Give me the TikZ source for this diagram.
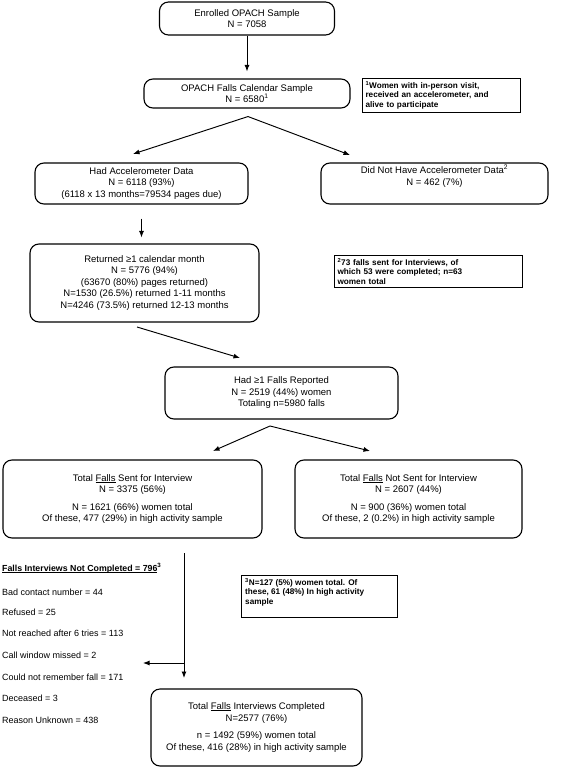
\documentclass[tikz,border=0pt]{standalone}
\usepackage{fontspec}
\setmainfont{Liberation Sans}
\usetikzlibrary{arrows.meta,calc}
\newcommand\myul[1]{\setbox0\hbox{#1}\rlap{\rule[-1.3pt]{\wd0}{0.55pt}}#1}
\begin{document}
\begin{tikzpicture}[x=1pt,y=-1pt,
  box/.style={draw, line width=1.1pt, rounded corners=9pt, align=center, inner sep=2pt,
    font=\fontsize{9.5}{11.5}\selectfont},
  note/.style={draw, line width=1.1pt, align=left, inner sep=3pt, anchor=north west,
    font=\bfseries\fontsize{8.2}{9.6}\selectfont},
  notetext/.style={align=left, inner sep=0pt, anchor=north west,
    font=\bfseries\fontsize{8.2}{9.6}\selectfont},
  arr/.style={line width=0.95pt, -{Latex[length=6.5pt,width=5pt]}},
  item/.style={anchor=west, inner sep=0pt, font=\fontsize{9}{11}\selectfont}]
\useasboundingbox (0,0) rectangle (568,767);
\fill[white] (0,0) rectangle (568,767);

% boxes
\node[box, minimum width=175pt, minimum height=33pt] (b1) at (247,18.5)
  {Enrolled OPACH Sample\\N = 7058};
\node[box, minimum width=206pt, minimum height=29pt] (b2) at (247,93.5)
  {OPACH Falls Calendar Sample\\N = 6580\textsuperscript{1}};
\node[note, text width=152pt, minimum height=31pt] (n1) at (362,78)
  {\textsuperscript{1}Women with in-person visit,\\received an accelerometer, and\\alive to participate};
\node[box, minimum width=213pt, minimum height=41pt] (b3) at (141.5,183.5)
  {Had Accelerometer Data\\N = 6118 (93\%)\\(6118 x 13 months=79534 pages due)};
\node[box, minimum width=227pt, minimum height=41pt] (b4) at (434.5,183.5)
  {Did Not Have Accelerometer Data\textsuperscript{2}\\N = 462 (7\%)\\[5pt]};
\node[box, minimum width=229pt, minimum height=78pt] (b5) at (144.5,283)
  {Returned ≥1 calendar month\\N = 5776 (94\%)\\(63670 (80\%) pages returned)\\N=1530 (26.5\%) returned 1-11 months\\N=4246 (73.5\%) returned 12-13 months};
\node[note, text width=182pt, minimum height=28pt] (n2) at (334,255)
  {\textsuperscript{2}73 falls sent for Interviews, of\\which 53 were completed; n=63\\women total};
\node[box, minimum width=233pt, minimum height=52pt] (b6) at (281.5,393)
  {Had ≥1 Falls Reported\\N = 2519 (44\%) women\\Totaling n=5980 falls};
\node[box, minimum width=259pt, minimum height=78pt] (b7) at (132.5,499)
  {Total \myul{Falls} Sent for Interview\\N = 3375 (56\%)\\[6pt]N = 1621 (66\%) women total\\Of these, 477 (29\%) in high activity sample};
\node[box, minimum width=227pt, minimum height=78pt] (b8) at (408.5,499)
  {Total \myul{Falls} Not Sent for Interview\\N = 2607 (44\%)\\[6pt]N = 900 (36\%) women total\\Of these, 2 (0.2\%) in high activity sample};
\node[note, text width=150pt, minimum height=42pt] (n3) at (241,575) {};
\node[notetext] (n3t) at (245,578)
  {\textsuperscript{3}N=127 (5\%) women total. Of\\these, 61 (48\%) In high activity\\sample};
\node[box, minimum width=211pt, minimum height=77pt] (b9) at (256.5,727.5)
  {Total \myul{Falls} Interviews Completed\\N=2577 (76\%)\\[6pt]n = 1492 (59\%) women total\\Of these, 416 (28\%) in high activity sample};

% left list
\node[item, font=\bfseries\fontsize{8.8}{11}\selectfont] (l0) at (2,568)
  {\myul{Falls Interviews Not Completed = 796}\textsuperscript{3}};
\node[item] (l1) at (2,592) {Bad contact number = 44};
\node[item] (l2) at (2,612) {Refused = 25};
\node[item] (l3) at (2,633) {Not reached after 6 tries = 113};
\node[item] (l4) at (2,655) {Call window missed = 2};
\node[item] (l5) at (2,677) {Could not remember fall = 171};
\node[item] (l6) at (2,698) {Deceased = 3};
\node[item] (l7) at (2,720) {Reason Unknown = 438};

% connector points
\coordinate (v1) at ($(b2.south)+(1,8)$);
\coordinate (t3) at (133,154);
\coordinate (t4) at (350,155);
\coordinate (c5a) at (137,327);
\coordinate (c5b) at (240,358);
\coordinate (v2) at (270,426);
\coordinate (t7) at (213,451);
\coordinate (t8) at (370,451);
\coordinate (d1) at (184,553);
\coordinate (d2) at (184,678);
\coordinate (d3) at (184,663);
\coordinate (d4) at (143,663);

% connectors
\draw[arr, shorten >=7pt] (b1.south) -- (b2.north);
\draw[arr] (v1) -- (t3);
\draw[arr] (v1) -- (t4);
\draw[arr, shorten <=14pt, shorten >=6pt] (b3.south) -- (b3.south |- b5.north);
\draw[arr] (c5a) -- (c5b);
\draw[arr] (v2) -- (t7);
\draw[arr] (v2) -- (t8);
\draw[arr] (d1) -- (d2);
\draw[arr] (d3) -- (d4);
\end{tikzpicture}
\end{document}
